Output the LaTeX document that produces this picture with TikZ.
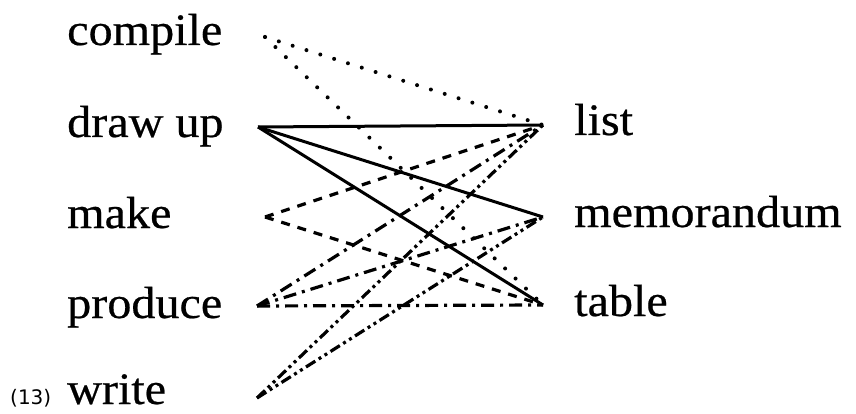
\documentclass[tikz,border=0pt]{standalone}
\usepackage{fontspec}
\setmainfont{Liberation Serif}[FakeStretch=1.07,FakeBold=0.5]
\newfontfamily\numfont{DejaVu Sans}
\begin{document}
\begin{tikzpicture}[x=1pt,y=-1pt,
  word/.style={anchor=base west,inner sep=0pt,font=\fontsize{45}{50}\selectfont},
  ln/.style={line width=3pt},
  dotln/.style={line width=4pt,line cap=round,dash pattern=on 0pt off 14.5pt},
  dashln/.style={line width=3.2pt,dash pattern=on 9pt off 8pt},
  dashdotln/.style={line width=3.2pt,line cap=butt,dash pattern=on 13pt off 6pt on 3pt off 6pt},
  dashdotdotln/.style={line width=3.2pt,line cap=butt,dash pattern=on 11pt off 4pt on 3pt off 4pt on 3pt off 4pt}]
\useasboundingbox (0,0) rectangle (856,414);
% labels
\node[word] (compile) at (67,45) {compile};
\node[word] (drawup) at (67,137) {draw up};
\node[word] (make) at (67,228) {make};
\node[word] (produce) at (67,318) {produce};
\node[word] (write) at (67,404) {write};
\node[word] (list) at (574,135) {list};
\node[word] (memo) at (574,227) {memorandum};
\node[word] (table) at (574,316) {table};
\node[anchor=base west,inner sep=0pt,font=\numfont\fontsize{20}{22}\selectfont] (num) at (10,404) {(13)};
% line end points
\coordinate (cL) at (265,37);
\coordinate (dL) at (258,127);
\coordinate (mL) at (265,217);
\coordinate (pL) at (257,306);
\coordinate (wL) at (257,398);
\coordinate (lR) at (543,125);
\coordinate (oR) at (543,217);
\coordinate (tR) at (543,305);
% compile
\draw[dotln] (cL) -- (lR);
\draw[dotln] (cL) -- (tR);
% draw up
\draw[ln] (dL) -- (lR);
\draw[ln] (dL) -- (oR);
\draw[ln] (dL) -- (tR);
% make
\draw[dashln] (mL) -- (lR);
\draw[dashln] (mL) -- (tR);
% produce
\draw[dashdotln] (pL) -- (lR);
\draw[dashdotln] (pL) -- (oR);
\draw[dashdotln] (pL) -- (tR);
% write
\draw[dashdotdotln] (wL) -- (lR);
\draw[dashdotdotln] (wL) -- (oR);
\end{tikzpicture}
\end{document}
